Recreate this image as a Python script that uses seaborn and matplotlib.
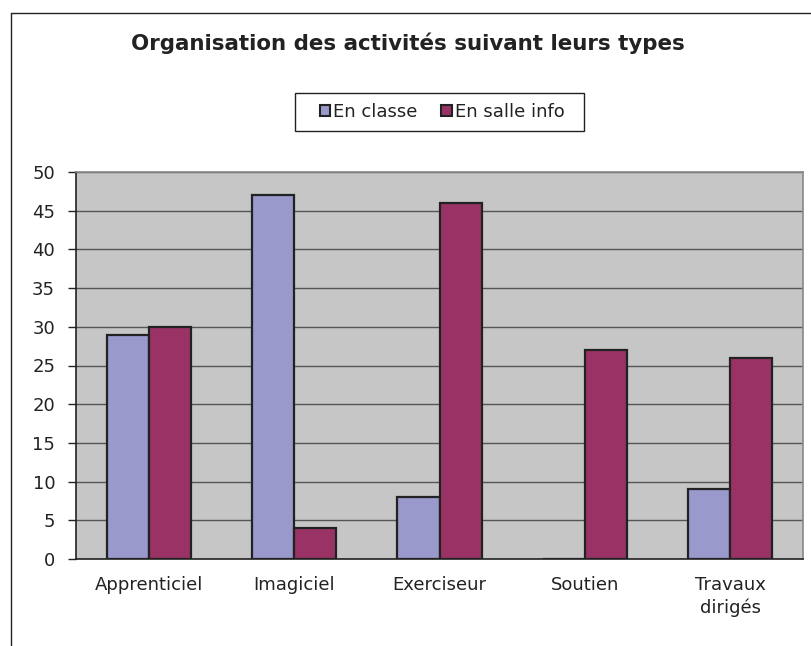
import matplotlib
matplotlib.use("Agg")
import matplotlib.pyplot as plt
import seaborn as sns
import pandas as pd
from matplotlib.lines import Line2D
from matplotlib.patches import Patch, Rectangle

categories = ["Apprenticiel", "Imagiciel", "Exerciseur", "Soutien", "Travaux\ndirigés"]
series_names = ["En classe", "En salle info"]
en_classe = [29, 47, 8, 0, 9]
en_salle_info = [30, 4, 46, 27, 26]
yticks = [0, 5, 10, 15, 20, 25, 30, 35, 40, 45, 50]
colors = ["#9999CC", "#993366"]

df = pd.DataFrame({
    "cat": categories * 2,
    "serie": [series_names[0]] * 5 + [series_names[1]] * 5,
    "val": en_classe + en_salle_info,
})

sns.set_style("white")
plt.rcParams["font.family"] = ["DejaVu Sans"]

W, H = 811, 646
fig = plt.figure(figsize=(W / 100, H / 100), dpi=100)
ax = fig.add_axes([76 / W, 1 - 559 / H, (803 - 76) / W, (559 - 172) / H])
ax.set_facecolor("#C6C6C6")

sns.barplot(data=df, x="cat", y="val", hue="serie", order=categories,
            hue_order=series_names, palette=colors, width=0.58,
            edgecolor="#222222", linewidth=1.6, saturation=1, ax=ax, legend=False, zorder=3)

ax.set_ylim(0, 50)
ax.set_xlim(-0.5, 4.5)
ax.set_yticks(yticks)
ax.set_yticklabels([str(v) for v in yticks], fontsize=13, color="#222222")
ax.yaxis.grid(True, color="#555555", linewidth=1.0, zorder=0)
ax.set_axisbelow(True)
ax.set_xlabel("")
ax.set_ylabel("")
ax.set_xticks(range(5))
ax.set_xticklabels(categories, fontsize=13, va="top", linespacing=1.35, color="#222222")
ax.tick_params(axis="x", which="major", length=0, pad=12)
ax.set_xticks([i + 0.5 for i in range(-1, 5)], minor=True)
ax.tick_params(axis="x", which="minor", length=5, width=1, color="#222222", direction="out")
ax.tick_params(axis="y", length=6, width=1, color="#222222", direction="out", left=True, pad=9)

for s in ["left", "bottom"]:
    ax.spines[s].set_color("#222222")
    ax.spines[s].set_linewidth(1.2)
for s in ["right", "top"]:
    ax.spines[s].set_color("#888888")
    ax.spines[s].set_linewidth(1.2)

fig.text(408 / W, 1 - 50 / H, "Organisation des activités suivant leurs types",
         ha="center", va="baseline", fontsize=15.4, fontweight="bold", color="#222222")

handles = [Patch(facecolor=c, edgecolor="#222222", linewidth=1.5) for c in colors]
leg = fig.legend(handles, series_names, loc="center", bbox_to_anchor=(442 / W, 1 - 112 / H),
                 ncol=2, fontsize=13, frameon=False, handlelength=0.6,
                 handleheight=0.6, handletextpad=0.15, columnspacing=1.3,
                 borderpad=0.3, borderaxespad=0)
for t in leg.get_texts():
    t.set_color("#222222")

fig.add_artist(Rectangle((295 / W, 1 - 131 / H), (584 - 295) / W, (131 - 93) / H,
                         transform=fig.transFigure, facecolor="none",
                         edgecolor="#222222", linewidth=1))

fig.add_artist(Line2D([11 / W, 11 / W, 1.0], [0, 1 - 13 / H, 1 - 13 / H],
                      transform=fig.transFigure, color="#222222", linewidth=1))

fig.savefig("out.png", dpi=100)
